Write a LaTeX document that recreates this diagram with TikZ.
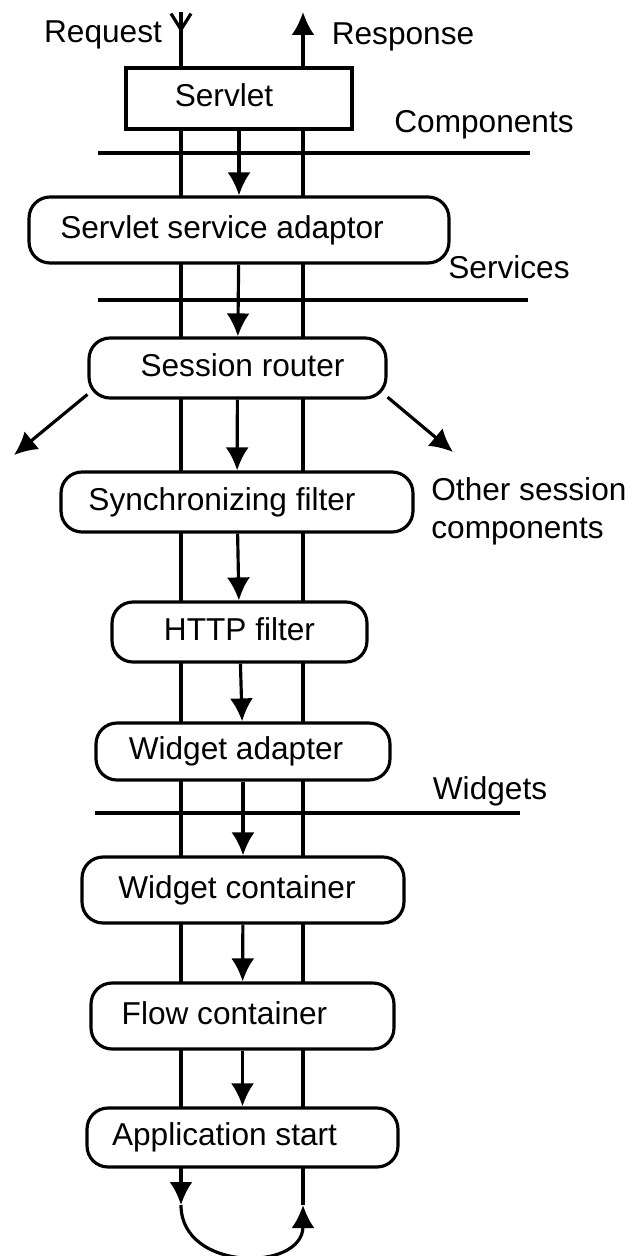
\documentclass[tikz,border=0pt]{standalone}
\usepackage{fontspec}
\setmainfont{Liberation Sans}
\usetikzlibrary{arrows.meta,backgrounds}

\tikzset{
	box/.style={draw, fill=white, line width=1.8pt, text height=13.2pt, text depth=3.8pt},
	roundbox/.style={box, rounded corners=0.42cm},
	padright/.style={execute at end node={\hspace*{#1}}},
	padleft/.style={execute at begin node={\hspace*{#1}}},
	arr/.style={line width=1.8pt, -{Latex[length=0.46cm,width=0.46cm]}},
	layer/.style={line width=1.8pt}
}

\begin{document}
\begin{tikzpicture}[x=0.02cm, y=-0.02cm, font=\fontsize{18}{21.5}\selectfont]
	\useasboundingbox (0,0) rectangle (638,1256);
	% the stack of handlers
	\node[box, padright=0.6cm, minimum width=4.52cm, minimum height=1.22cm](servlet) at (239,98.5) {Servlet};
	\node[roundbox, padright=0.68cm, minimum width=8.4cm, minimum height=1.32cm](adaptor) at (239,230) {Servlet service adaptor};
	\node[roundbox, padleft=0.2cm, minimum width=5.94cm, minimum height=1.2cm](router) at (237.5,368) {Session router};
	\node[roundbox, padright=0.6cm, minimum width=7.04cm, minimum height=1.2cm](sync) at (237,502) {Synchronizing filter};
	\node[roundbox, minimum width=5.1cm, minimum height=1.2cm](http) at (239.5,632) {HTTP filter};
	\node[roundbox, padright=0.28cm, minimum width=5.88cm, minimum height=1.14cm](wadapter) at (243,751.5) {Widget adapter};
	\node[roundbox, padright=0.24cm, minimum width=6.44cm, minimum height=1.32cm](wcontainer) at (243,890) {Widget container};
	\node[roundbox, padright=0.72cm, minimum width=6.06cm, minimum height=1.32cm](flow) at (242.5,1016) {Flow container};
	\node[roundbox, padright=0.72cm, minimum width=6.22cm, minimum height=1.18cm](appstart) at (242.5,1137.5) {Application start};

	% labels
	\node[anchor=base](request) at (103,43) {Request};
	\node[anchor=base](response) at (403,45) {Response};
	\node[anchor=base](components) at (484,133) {Components};
	\node[anchor=base](services) at (509,279) {Services};
	\node[anchor=base west, align=left, inner sep=0pt](other) at (431,538) {Other session\\components};
	\node[anchor=base](widgets) at (490,799) {Widgets};

	% layer borders
	\draw[layer] (98,153) -- (530,153);
	\draw[layer] (98,300) -- (528,300);
	\draw[layer] (95,813) -- (520,813);

	% request and response path
	\coordinate (reqtop) at (181,12);
	\coordinate (reqbot) at (181,1205);
	\coordinate (restop) at (303,12);
	\coordinate (resbot) at (303,1205);
	\begin{scope}[on background layer]
		\draw[arr] (reqtop) -- (reqbot);
		\draw[layer, {Straight Barb[reversed,length=0.32cm,width=0.4cm]}-] (reqtop) -- (181,40);
		\draw[arr] (resbot) -- (restop);
	\end{scope}
	\draw[arr] (reqbot) .. controls (181,1272) and (303,1272) .. (resbot);

	% calls down the stack
	\draw[arr] (servlet) -- (adaptor);
	\draw[arr] (adaptor) -- (router);
	\draw[arr] (router) -- (sync);
	\draw[arr] (sync) -- (http);
	\draw[arr] (http) -- (wadapter);
	\draw[arr] (wadapter) -- (wcontainer);
	\draw[arr] (wcontainer) -- (flow);
	\draw[arr] (flow) -- (appstart);

	% other session components
	\coordinate (otherleft) at (14,455);
	\coordinate (otherright) at (453,452);
	\draw[arr] (router.190.5) -- (otherleft);
	\draw[arr] (router.349.4) -- (otherright);
\end{tikzpicture}
\end{document}
